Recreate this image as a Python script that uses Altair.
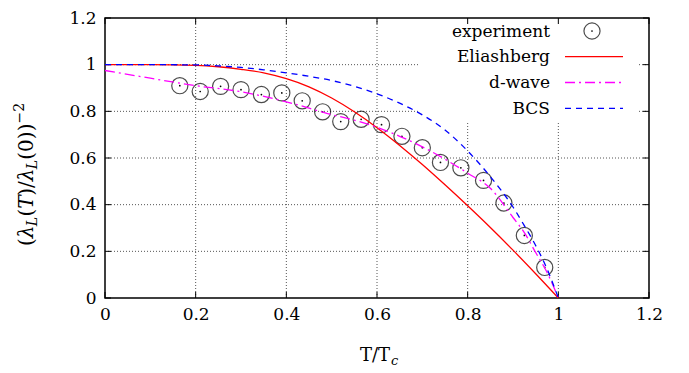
import altair as alt
import pandas as pd

# ---------------- data ----------------
exp_t = [0.165, 0.21, 0.255, 0.30, 0.345, 0.39, 0.435, 0.48, 0.52, 0.565,
         0.61, 0.655, 0.70, 0.74, 0.785, 0.835, 0.88, 0.925, 0.97]
exp_v = [0.910, 0.885, 0.907, 0.893, 0.872, 0.879, 0.845, 0.798, 0.756, 0.766,
         0.743, 0.693, 0.644, 0.581, 0.558, 0.504, 0.407, 0.268, 0.131]

eli_t = [0.0, 0.1, 0.2, 0.25, 0.3, 0.35, 0.4, 0.45, 0.5, 0.55, 0.6, 0.65, 0.7,
         0.75, 0.8, 0.85, 0.9, 0.95, 1.0]
eli_v = [1.0, 1.0, 0.997, 0.991, 0.980, 0.965, 0.940, 0.905, 0.857, 0.798,
         0.730, 0.654, 0.572, 0.485, 0.395, 0.302, 0.205, 0.104, 0.0]

dw_t = [0.0, 0.1, 0.2, 0.3, 0.4, 0.5, 0.55, 0.6, 0.65, 0.7, 0.75, 0.8,
        0.85, 0.9, 0.925, 0.95, 0.975, 1.0]
dw_v = [0.975, 0.942, 0.910, 0.884, 0.841, 0.786, 0.762, 0.732, 0.693, 0.648,
        0.595, 0.535, 0.470, 0.345, 0.280, 0.195, 0.110, 0.0]

bcs_t = [0.0, 0.1, 0.2, 0.25, 0.3, 0.35, 0.4, 0.45, 0.5, 0.55, 0.6, 0.65,
         0.7, 0.75, 0.8, 0.85, 0.9, 0.925, 0.95, 0.975, 1.0]
bcs_v = [1.0, 1.0, 0.999, 0.995, 0.988, 0.978, 0.965, 0.950, 0.932, 0.907,
         0.875, 0.835, 0.785, 0.720, 0.630, 0.520, 0.390, 0.310, 0.225, 0.125, 0.0]

axis_ticks = [0, 0.2, 0.4, 0.6, 0.8, 1.0, 1.2]
grid_vals = [0.2, 0.4, 0.6, 0.8, 1.0]
legend_labels = ["experiment", "Eliashberg", "d-wave", "BCS"]

# ---------------- layout / style ----------------
W, H = 544, 280
FONT = "DejaVu Serif"
TICK = 6

exp_df = pd.DataFrame({"t": exp_t, "v": exp_v})
eli_df = pd.DataFrame({"t": eli_t, "v": eli_v})
dw_df = pd.DataFrame({"t": dw_t, "v": dw_v})
bcs_df = pd.DataFrame({"t": bcs_t, "v": bcs_v})
tick_df = pd.DataFrame({"t": axis_ticks, "v": axis_ticks})
grid_df = pd.DataFrame({"t": grid_vals, "v": grid_vals})
one = pd.DataFrame({"k": [0]})

xs = alt.Scale(domain=[0, 1.2], nice=False, zero=False)
ys = alt.Scale(domain=[0, 1.2], nice=False, zero=False)
ax_x = alt.Axis(title=None, values=axis_ticks, format="~g", labelFlush=False,
                labelOverlap=False, grid=False, ticks=False, domain=False,
                labelPadding=8)
ax_y = alt.Axis(title=None, values=axis_ticks, format="~g", labelFlush=False,
                labelOverlap=False, grid=False, ticks=False, domain=False,
                labelPadding=9)

X = lambda: alt.X("t:Q", scale=xs, axis=ax_x)
Y = lambda: alt.Y("v:Q", scale=ys, axis=ax_y)

grid_style = dict(color="#555555", strokeWidth=1, strokeDash=[1, 2])
vgrid = alt.Chart(grid_df).mark_rule(**grid_style).encode(x=X())
hgrid = alt.Chart(grid_df).mark_rule(**grid_style).encode(y=Y())

# opaque legend background hiding the grid
legend_bg = alt.Chart(one).mark_rect(color="white").encode(
    x=alt.value(314), x2=alt.value(532), y=alt.value(1), y2=alt.value(103))

tick_style = dict(color="black", strokeWidth=1)
t_bottom = alt.Chart(tick_df).mark_rule(**tick_style).encode(
    x=X(), y=alt.value(H), y2=alt.value(H - TICK))
t_top = alt.Chart(tick_df).mark_rule(**tick_style).encode(
    x=X(), y=alt.value(0), y2=alt.value(TICK))
t_left = alt.Chart(tick_df).mark_rule(**tick_style).encode(
    y=Y(), x=alt.value(0), x2=alt.value(TICK))
t_right = alt.Chart(tick_df).mark_rule(**tick_style).encode(
    y=Y(), x=alt.value(W - TICK), x2=alt.value(W))

circles = alt.Chart(exp_df).mark_point(
    shape="circle", size=260, filled=False, color="black", strokeWidth=1.2
).encode(x=X(), y=Y())
dots = alt.Chart(exp_df).mark_circle(size=3, color="black", opacity=1).encode(x=X(), y=Y())

eli = alt.Chart(eli_df).mark_line(color="#ff0000", strokeWidth=1.3, interpolate="monotone").encode(
    x=X(), y=Y(), order="t:Q")
dw = alt.Chart(dw_df).mark_line(color="#ff00ff", strokeWidth=1.3, strokeDash=[10, 4, 2, 4],
                                interpolate="monotone").encode(x=X(), y=Y(), order="t:Q")
bcs = alt.Chart(bcs_df).mark_line(color="#0000ff", strokeWidth=1.3, strokeDash=[6, 5],
                                  interpolate="monotone").encode(x=X(), y=Y(), order="t:Q")

# ---------------- legend (gnuplot style, text right-aligned) ----------------
leg_y = [13, 38.7, 64.5, 90.3]
leg_text_x = 445
leg_layers = []
for lab, yy in zip(legend_labels, leg_y):
    leg_layers.append(alt.Chart(one).mark_text(
        font=FONT, fontSize=17, align="right", baseline="alphabetic", color="black"
    ).encode(x=alt.value(leg_text_x), y=alt.value(yy + 5.5), text=alt.value(lab)))
leg_layers.append(alt.Chart(one).mark_point(
    shape="circle", size=260, filled=False, color="black", strokeWidth=1.2
).encode(x=alt.value(487), y=alt.value(leg_y[0])))
leg_layers.append(alt.Chart(one).mark_circle(size=3, color="black", opacity=1).encode(
    x=alt.value(487), y=alt.value(leg_y[0])))
leg_layers.append(alt.Chart(one).mark_rule(color="#ff0000", strokeWidth=1.3).encode(
    x=alt.value(460), x2=alt.value(518), y=alt.value(leg_y[1])))
leg_layers.append(alt.Chart(one).mark_rule(color="#ff00ff", strokeWidth=1.3,
                                           strokeDash=[10, 4, 2, 4]).encode(
    x=alt.value(460), x2=alt.value(518), y=alt.value(leg_y[2])))
leg_layers.append(alt.Chart(one).mark_rule(color="#0000ff", strokeWidth=1.3,
                                           strokeDash=[6, 5]).encode(
    x=alt.value(460), x2=alt.value(518), y=alt.value(leg_y[3])))

# ---------------- axis titles built from text pieces ----------------
title_layers = []
# x title: T/T_c
title_layers.append(alt.Chart(one).mark_text(
    font=FONT, fontSize=18, align="right", baseline="alphabetic", color="black"
).encode(x=alt.value(285), y=alt.value(343), text=alt.value("T/T")))
title_layers.append(alt.Chart(one).mark_text(
    font=FONT, fontSize=13, fontStyle="italic", align="left", baseline="alphabetic", color="black"
).encode(x=alt.value(286), y=alt.value(347), text=alt.value("c")))

# y title: (lambda_L(T)/lambda_L(0))^-2, rotated, built bottom-to-top
MAIN, SMALL = 20, 14
pieces = [
    ("(", MAIN, "normal", 0, 7.8 * MAIN / 20),
    ("λ", MAIN, "italic", 0, 12.0 * MAIN / 20),
    ("L", SMALL, "italic", 4, 9.6 * SMALL / 14),
    ("(", MAIN, "normal", 0, 7.8 * MAIN / 20),
    ("T", MAIN, "italic", 0, 13.0 * MAIN / 20),
    (")/", MAIN, "normal", 0, 14.5 * MAIN / 20),
    ("λ", MAIN, "italic", 0, 12.0 * MAIN / 20),
    ("L", SMALL, "italic", 4, 9.6 * SMALL / 14),
    ("(0))", MAIN, "normal", 0, 36.1 * MAIN / 20),
    ("−2", SMALL, "normal", -9, 20.6 * SMALL / 14),
]
base_x = -72
pos = 228
for txt, fs, style, shift, w in pieces:
    title_layers.append(alt.Chart(one).mark_text(
        font=FONT, fontSize=fs, fontStyle=style, angle=270, align="left",
        baseline="alphabetic", color="black"
    ).encode(x=alt.value(base_x + shift), y=alt.value(pos), text=alt.value(txt)))
    pos -= w

chart = alt.layer(
    vgrid, hgrid, legend_bg, t_bottom, t_top, t_left, t_right,
    circles, dots, eli, dw, bcs, *leg_layers, *title_layers
).properties(
    width=W, height=H,
    autosize=alt.AutoSizeParams(type="none"),
    padding={"left": 97, "top": 10, "right": 24, "bottom": 70},
).configure_view(
    stroke="black", strokeWidth=1.5
).configure_axis(
    labelFont=FONT, labelFontSize=17, labelColor="black"
)

chart.save("out.html", embed_options={"renderer": "svg", "actions": False})
